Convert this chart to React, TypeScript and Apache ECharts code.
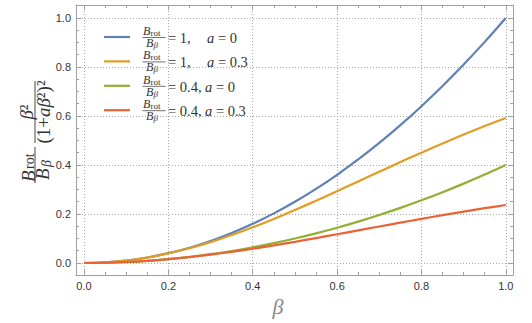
import { useEffect, useRef } from "react";
import * as echarts from "echarts";

// ---- data ----
const betaValues = [0, 0.05, 0.1, 0.15, 0.2, 0.25, 0.3, 0.35, 0.4, 0.45, 0.5, 0.55, 0.6, 0.65, 0.7, 0.75, 0.8, 0.85, 0.9, 0.95, 1.0];
const curveR1A0 = [0, 0.0025, 0.01, 0.0225, 0.04, 0.0625, 0.09, 0.1225, 0.16, 0.2025, 0.25, 0.3025, 0.36, 0.4225, 0.49, 0.5625, 0.64, 0.7225, 0.81, 0.9025, 1.0];
const curveR1A03 = [0, 0.0025, 0.0099, 0.0222, 0.0391, 0.0602, 0.0853, 0.114, 0.1457, 0.18, 0.2163, 0.2543, 0.2932, 0.3328, 0.3725, 0.4118, 0.4504, 0.488, 0.5243, 0.5589, 0.5917];
const curveR04A0 = [0, 0.001, 0.004, 0.009, 0.016, 0.025, 0.036, 0.049, 0.064, 0.081, 0.1, 0.121, 0.144, 0.169, 0.196, 0.225, 0.256, 0.289, 0.324, 0.361, 0.4];
const curveR04A03 = [0, 0.001, 0.004, 0.0089, 0.0156, 0.0241, 0.0341, 0.0456, 0.0583, 0.072, 0.0865, 0.1017, 0.1173, 0.1331, 0.149, 0.1647, 0.1802, 0.1952, 0.2097, 0.2236, 0.2367];
const ratioValues = ["1", "1", "0.4", "0.4"];
const aValues = ["0", "0.3", "0", "0.3"];
const majorTicks = [0, 0.2, 0.4, 0.6, 0.8, 1.0];
const minorTicks = [0.05, 0.1, 0.15, 0.25, 0.3, 0.35, 0.45, 0.5, 0.55, 0.65, 0.7, 0.75, 0.85, 0.9, 0.95];

const curves = [curveR1A0, curveR1A03, curveR04A0, curveR04A03];
const colors = ["#5e81b5", "#e19c24", "#8fb032", "#eb6235"];

const SERIF = "'Liberation Serif', 'DejaVu Serif', serif";
const SANS = "'Liberation Sans', Arial, sans-serif";
const frameColor = "#a0a0a0";
const tickLabelColor = "#333";

function txt(x: number, y: number, text: string, font: string, opts: any = {}) {
  return {
    type: "text",
    x,
    y,
    silent: true,
    style: {
      text,
      font,
      fill: opts.fill || "#333",
      align: opts.align || "left",
      textAlign: opts.align || "left",
      verticalAlign: "middle",
      textVerticalAlign: "middle",
      rich: opts.rich,
    },
  };
}

function hline(x1: number, x2: number, y: number, stroke: string, lineWidth: number) {
  return {
    type: "line",
    silent: true,
    shape: { x1, y1: y, x2, y2: y },
    style: { stroke, lineWidth },
  };
}

export default function App() {
  const ref = useRef<HTMLDivElement>(null);
  useEffect(() => {
    document.body.style.margin = "0";
    if (!ref.current) return;
    const chart = echarts.init(ref.current, undefined, { renderer: "svg" });

    const xRange = { type: "value", min: -0.019, max: 1.017, gridIndex: 0 };
    const yRange = { type: "value", min: -0.049, max: 1.053, gridIndex: 0 };

    const frameAxis = (range: any, position: string, labels: boolean, split: boolean) => ({
      ...range,
      position,
      axisLine: { show: true, onZero: false, lineStyle: { color: frameColor, width: 1 } },
      axisTick: {
        show: true,
        inside: true,
        length: 5,
        customValues: majorTicks,
        lineStyle: { color: frameColor, width: 1 },
      },
      axisLabel: {
        show: labels,
        customValues: majorTicks,
        formatter: (v: number) => v.toFixed(1),
        color: tickLabelColor,
        fontSize: 11,
        fontFamily: SANS,
        margin: 5,
      },
      splitLine: {
        show: split,
        lineStyle: { color: "#a8a8a8", width: 1, type: [1, 2] },
      },
    });
    const minorAxis = (range: any, position: string) => ({
      ...range,
      position,
      axisLine: { show: false, onZero: false },
      axisTick: {
        show: true,
        inside: true,
        length: 3,
        customValues: minorTicks,
        lineStyle: { color: frameColor, width: 1 },
      },
      axisLabel: { show: false },
      splitLine: { show: false },
    });

    // legend drawn as math-like text
    const legendChildren: any[] = [];
    for (let i = 0; i < 4; i++) {
      const y = 37 + i * 24.4;
      legendChildren.push(hline(104, 130, y, colors[i], 2.2));
      legendChildren.push(txt(143, y - 6, "B", `italic 12px ${SERIF}`));
      legendChildren.push(txt(150.5, y - 4, "rot", `9px ${SERIF}`));
      legendChildren.push(hline(142.5, 165.5, y + 0.5, "#333", 0.7));
      legendChildren.push(txt(146, y + 6, "B", `italic 12px ${SERIF}`));
      legendChildren.push(txt(153.5, y + 8, "β", `italic 9px ${SERIF}`));
      legendChildren.push(txt(168, y + 1, `= ${ratioValues[i]},`, `14.5px ${SERIF}`));
      legendChildren.push(
        txt(ratioValues[i].length > 1 ? 205 : 207, y + 1, `{i|a} = ${aValues[i]}`, `14.5px ${SERIF}`, {
          rich: { i: { font: `italic 14.5px ${SERIF}`, fill: "#333" } },
        })
      );
    }

    // rotated y-axis label
    const yLabel = {
      type: "group",
      x: 35,
      y: 185,
      rotation: Math.PI / 2,
      children: [
        hline(2, 38, 0, "#333", 0.9),
        txt(3, -6.5, "B", `italic 19px ${SERIF}`),
        txt(16, -5.5, "rot", `14px ${SERIF}`),
        txt(5, 7.5, "B", `italic 19px ${SERIF}`),
        txt(18, 11, "β", `italic 14px ${SERIF}`),
        hline(42, 104, 0, "#333", 0.9),
        txt(73, -9, "{i|β}²", `19px ${SERIF}`, {
          align: "center",
          rich: { i: { font: `italic 19px ${SERIF}`, fill: "#333" } },
        }),
        txt(73, 8.5, "(1+{i|aβ}²)²", `19px ${SERIF}`, {
          align: "center",
          rich: { i: { font: `italic 19px ${SERIF}`, fill: "#333" } },
        }),
      ],
    };

    const option: any = {
      animation: false,
      backgroundColor: "#fff",
      grid: {
        left: 76,
        right: 19,
        top: 5,
        bottom: 48,
        containLabel: false,
        outerBoundsMode: "none",
      },
      xAxis: [
        frameAxis(xRange, "bottom", true, true),
        minorAxis(xRange, "bottom"),
        frameAxis(xRange, "top", false, false),
        minorAxis(xRange, "top"),
      ],
      yAxis: [
        frameAxis(yRange, "left", true, true),
        minorAxis(yRange, "left"),
        frameAxis(yRange, "right", false, false),
        minorAxis(yRange, "right"),
      ],
      series: curves.map((c, i) => ({
        type: "line",
        name: `Brot/Bβ = ${ratioValues[i]}, a = ${aValues[i]}`,
        xAxisIndex: 0,
        yAxisIndex: 0,
        data: betaValues.map((b, j) => [b, c[j]]),
        smooth: 0.3,
        showSymbol: false,
        symbol: "none",
        lineStyle: { color: colors[i], width: 2.2 },
        itemStyle: { color: colors[i] },
      })),
      graphic: [
        { type: "group", children: legendChildren },
        yLabel,
        txt(278, 306, "β", `italic 22px ${SERIF}`, { fill: "#888", align: "center" }),
      ],
    };
    chart.setOption(option);
    return () => chart.dispose();
  }, []);
  return <div ref={ref} style={{ width: 532, height: 323 }} />;
}
